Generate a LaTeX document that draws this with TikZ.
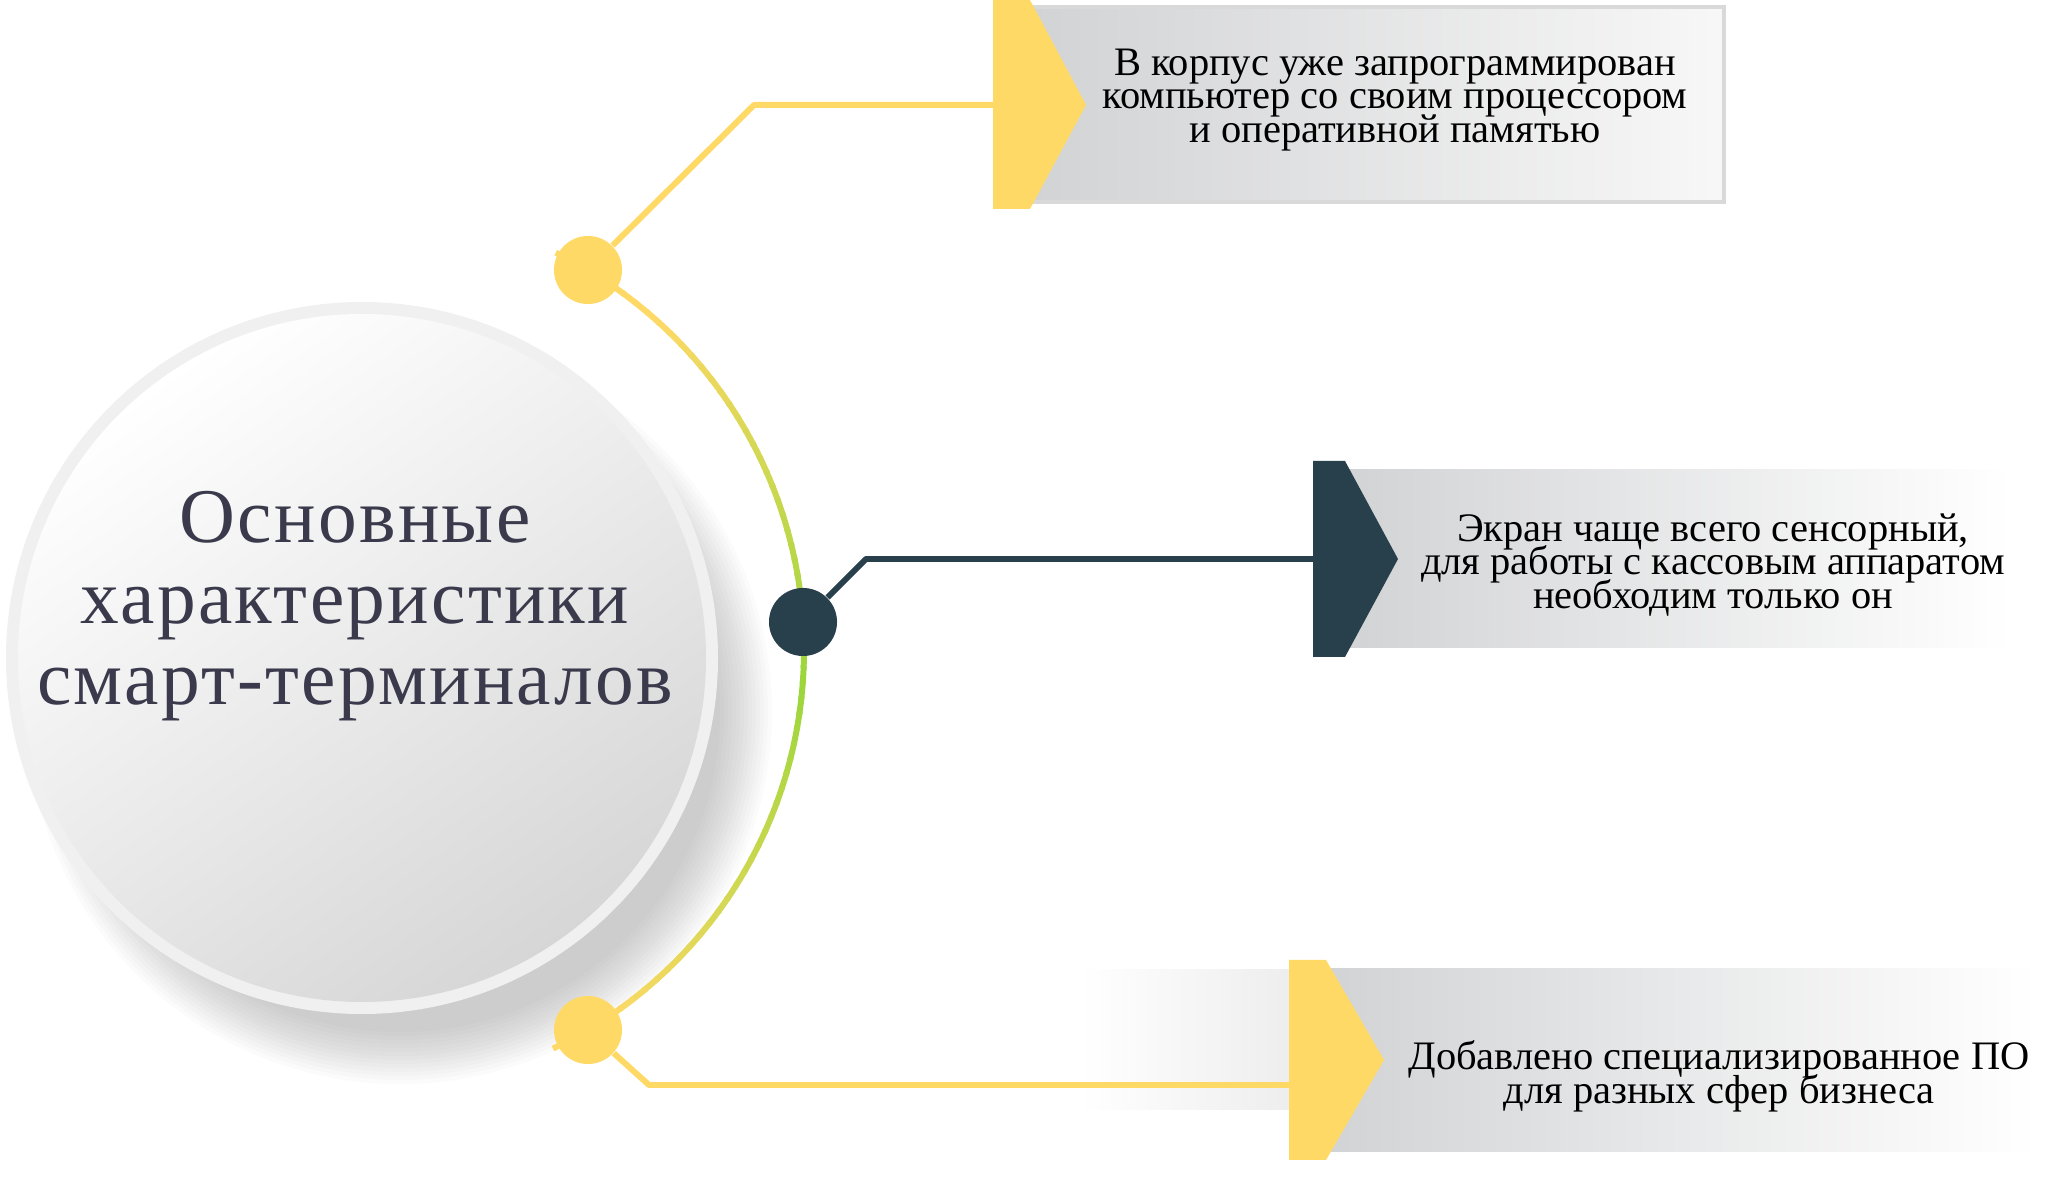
\documentclass[tikz,border=0pt]{standalone}
\usepackage{fontspec}
\setmainfont{Liberation Serif}
\newfontfamily\titlefont[LetterSpace=3]{Liberation Serif}
\newcommand\fonttesto{\fontsize{11.5}{9.6}\selectfont\lineskiplimit=-20pt\relax}
\definecolor{giallo}{HTML}{FFD966}
\definecolor{verde}{HTML}{9AD63B}
\definecolor{scuro}{HTML}{283F4C}
\definecolor{titolo}{HTML}{3A3A4C}
\definecolor{grigio}{HTML}{D2D3D5}

\begin{document}
\begin{tikzpicture}[x=0.01cm, y=-0.01cm]
				% Stili
				\tikzset{punto/.style={circle, minimum size=0.68cm, inner sep=0pt},
					linea/.style={line width=1.7pt, line join=round},
					testo/.style={font=\fonttesto, align=center, inner sep=0pt}}
				\useasboundingbox (0,0) rectangle (2048,1192);
				
				% Ombra e cerchio centrale
				\foreach \r in {320,324,...,372}
					\fill[black, opacity=0.017] (400,712) circle (\r);
				\fill[black!6] (362,658) circle (356);
				\shade[top color=white, bottom color=black!16, shading angle=35] (362,658) circle (344);
				\node[font=\titlefont\fontsize{22}{23}\selectfont, text=titolo, align=center] (t) at (355,606) {Основные\\характеристики\\смарт-терминалов};
				
				% Arco giallo-verde
				\coordinate (O) at (362,650);
				\foreach \a in {-64,-62,...,62} {
					\pgfmathsetmacro\m{min(100,abs(\a-3)*1.9)}
					\draw[line width=1.7pt, color=giallo!\m!verde] (O) ++(\a:442) arc[start angle=\a, delta angle=2.4, radius=442];
				}
				
				% Riquadri grigi
				\shade[left color=grigio, right color=black!3] (1032,7) rectangle (1724,202);
				\draw[black!15, line width=1.2pt] (1032,7) -- (1724,7) -- (1724,202) -- (1032,202);
				\shade[left color=grigio, right color=white] (1345,470) rectangle (2011,648);
				\shade[left color=white, right color=black!7] (1080,970) rectangle (1295,1110);
				\shade[left color=grigio, right color=white] (1326,969) rectangle (2037,1152);
				
				% Frecce
				\fill[giallo] (993,0) -- (1030,0) -- (1086,105) -- (1030,209) -- (993,209) -- cycle;
				\fill[scuro] (1313,461) -- (1345,461) -- (1398,559) -- (1345,657) -- (1313,657) -- cycle;
				\fill[giallo] (1289,960) -- (1326,960) -- (1384,1060) -- (1326,1160) -- (1289,1160) -- cycle;
				
				% Punti sull'arco
				\node[punto, fill=giallo] (p1) at (588,270) {};
				\node[punto, fill=scuro] (p2) at (803,622) {};
				\node[punto, fill=giallo] (p3) at (588,1030) {};
				
				% Collegamenti
				\coordinate (k1) at (754,105);
				\coordinate (e1) at (995,105);
				\coordinate (k2) at (866,559);
				\coordinate (e2) at (1315,559);
				\coordinate (k3) at (649,1085);
				\coordinate (e3) at (1291,1085);
				\draw[linea, giallo] (p1) -- (k1) -- (e1);
				\draw[linea, scuro] (p2) -- (k2) -- (e2);
				\draw[linea, giallo] (p3) -- (k3) -- (e3);
				
				% Testi
				\node[testo] (d1) at (1395,100) {В корпус уже запрограммирован\\компьютер со своим процессором\\и оперативной памятью};
				\node[testo] (d2) at (1713,565) {Экран чаще всего сенсорный,\\для работы с кассовым аппаратом\\необходим только он};
				\node[testo] (d3) at (1719,1076) {Добавлено специализированное ПО\\для разных сфер бизнеса};
			\end{tikzpicture}
\end{document}
